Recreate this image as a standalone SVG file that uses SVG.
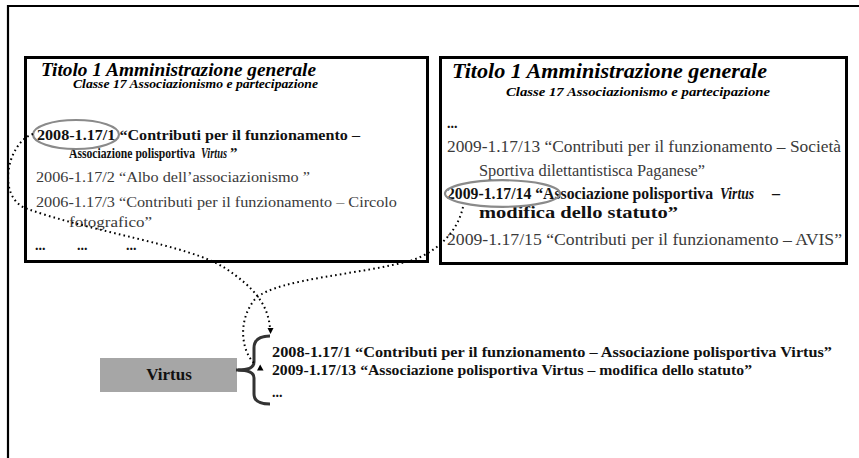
<svg xmlns="http://www.w3.org/2000/svg" width="859" height="458" viewBox="0 0 859 458">
<style>
.t{font-family:'Liberation Serif','DejaVu Serif',serif;font-weight:bold;font-style:italic;fill:#000;}
.b{font-family:'Liberation Serif','DejaVu Serif',serif;font-weight:bold;fill:#111;}
.i{font-family:'Liberation Serif','DejaVu Serif',serif;font-weight:bold;font-style:italic;fill:#111;}
.r{font-family:'Liberation Serif','DejaVu Serif',serif;fill:#3a3a3a;}
.box{fill:#fff;stroke:#000;stroke-width:3;}
.ell{fill:none;stroke:#8a8a8a;stroke-width:2.2;}
.dot{fill:none;stroke:#000;stroke-width:2;stroke-dasharray:1.6 3.2;stroke-linecap:butt;}
</style>
<g id="frame">
<path d="M8,458 L8,6 L859,6" fill="none" stroke="#000" stroke-width="2.2"/>
</g>
<g id="box-left">
<rect class="box" x="25.5" y="57.5" width="402" height="204"/>
<text class="t" x="41" y="75.5" font-size="19" textLength="275" lengthAdjust="spacingAndGlyphs">Titolo 1 Amministrazione generale</text>
<text class="t" x="73" y="87.5" font-size="12" textLength="245" lengthAdjust="spacingAndGlyphs">Classe 17 Associazionismo e partecipazione</text>
<text class="b" x="37" y="140" font-size="15" textLength="323" lengthAdjust="spacingAndGlyphs">2008-1.17/1 “Contributi per il funzionamento –</text>
<text class="b" x="69" y="157.5" font-size="15" textLength="126" lengthAdjust="spacingAndGlyphs">Associazione polisportiva</text>
<text class="i" x="201" y="157.5" font-size="15" textLength="26" lengthAdjust="spacingAndGlyphs">Virtus</text>
<text class="b" x="230" y="157.5" font-size="15">”</text>
<text class="r" x="36" y="181.5" font-size="15" textLength="274" lengthAdjust="spacingAndGlyphs">2006-1.17/2 “Albo dell’associazionismo ”</text>
<text class="r" x="36" y="206.5" font-size="15" textLength="361" lengthAdjust="spacingAndGlyphs">2006-1.17/3 “Contributi per il funzionamento – Circolo</text>
<text class="r" x="69" y="227" font-size="15" textLength="83" lengthAdjust="spacingAndGlyphs">fotografico”</text>
<text class="b" x="35" y="250" font-size="14">...</text>
<text class="b" x="77" y="250" font-size="14">...</text>
<text class="b" x="126" y="250" font-size="14">...</text>
<ellipse class="ell" cx="76" cy="134.5" rx="43" ry="14.5"/>
</g>
<g id="box-right">
<rect class="box" x="440.5" y="57.5" width="406" height="206"/>
<text class="t" x="452" y="77.5" font-size="22" textLength="315" lengthAdjust="spacingAndGlyphs">Titolo 1 Amministrazione generale</text>
<text class="t" x="506" y="96" font-size="13.5" textLength="264" lengthAdjust="spacingAndGlyphs">Classe 17 Associazionismo e partecipazione</text>
<text class="b" x="447" y="128" font-size="14">...</text>
<text class="r" x="447" y="152" font-size="16" textLength="394" lengthAdjust="spacingAndGlyphs">2009-1.17/13 “Contributi per il funzionamento – Società</text>
<text class="r" x="479" y="176" font-size="16" textLength="226" lengthAdjust="spacingAndGlyphs">Sportiva dilettantistisca Paganese”</text>
<text class="b" x="447" y="199" font-size="16" textLength="266" lengthAdjust="spacingAndGlyphs">2009-1.17/14 “Associazione polisportiva</text>
<text class="i" x="720" y="199" font-size="16" textLength="34" lengthAdjust="spacingAndGlyphs">Virtus</text>
<text class="b" x="772" y="199" font-size="16">–</text>
<text class="b" x="479" y="217.5" font-size="16" textLength="199" lengthAdjust="spacingAndGlyphs">modifica dello statuto”</text>
<text class="r" x="447" y="245" font-size="16" textLength="395" lengthAdjust="spacingAndGlyphs">2009-1.17/15 “Contributi per il funzionamento – AVIS”</text>
<ellipse class="ell" cx="502.5" cy="193.5" rx="57.5" ry="13.3"/>
</g>
<g id="virtus">
<rect x="100" y="358" width="137" height="34" fill="#a6a6a6"/>
<text class="b" x="169" y="379.5" font-size="17" text-anchor="middle" fill="#222">Virtus</text>
</g>
<g id="list">
<path d="M270,336 Q254,336 254,348 L254,362 Q254,370 238,370 Q254,370 254,378 L254,394 Q254,404 270,404" fill="none" stroke="#333" stroke-width="3"/>
<path d="M236,370 L246,370" stroke="#333" stroke-width="3"/>
<text class="b" x="272" y="357" font-size="14" textLength="560" lengthAdjust="spacingAndGlyphs">2008-1.17/1 “Contributi per il funzionamento – Associazione polisportiva Virtus”</text>
<text class="b" x="272" y="375" font-size="14" textLength="480" lengthAdjust="spacingAndGlyphs">2009-1.17/13 “Associazione polisportiva Virtus – modifica dello statuto”</text>
<text class="b" x="272" y="397" font-size="14">...</text>
</g>
<g id="connectors">
<path class="dot" d="M33,134 C8,142 -4,195 25,208 C90,232 190,245 225,268 C255,288 268,305 270,328"/>
<polygon points="267.5,328 273.5,328 270.5,334" fill="#000"/>
<path class="dot" d="M463,207 C458,230 440,250 413,260 C360,275 280,278 256,298 C238,318 240,350 255,364"/>
<polygon points="257,370.5 263.5,370.5 260.2,364.5" fill="#000"/>
</g>
</svg>
